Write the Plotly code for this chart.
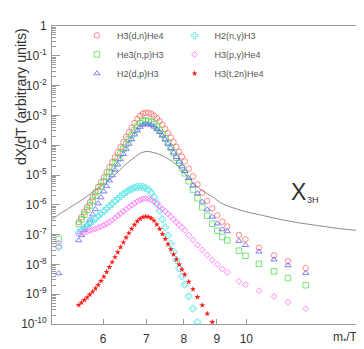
import plotly.graph_objects as go

# abscissa m*/T (first point is the isolated low-x sample)
x_vals = [5.12, 5.500, 5.555, 5.611, 5.667, 5.723, 5.781, 5.838, 5.896, 5.955, 6.015,
          6.075, 6.136, 6.197, 6.259, 6.322, 6.385, 6.449, 6.513, 6.578, 6.644,
          6.711, 6.778, 6.846, 6.914, 6.983, 7.053, 7.124, 7.195, 7.267, 7.340,
          7.413, 7.487, 7.562, 7.638, 7.714, 7.791, 7.869, 7.948, 8.027, 8.143,
          8.267, 8.401, 8.545, 8.699, 8.856, 9.015, 9.178, 9.343, 9.74, 9.97,
          10.46, 11.04, 11.60, 12.36]

h3dn_he4 = [3.89e-8,
            2.62e-7, 3.86e-7, 5.69e-7, 8.37e-7, 1.21e-6, 1.80e-6, 2.65e-6, 3.93e-6, 5.77e-6, 8.49e-6,
            1.25e-5, 1.85e-5, 2.69e-5, 3.95e-5, 5.86e-5, 8.62e-5, 1.27e-4, 1.87e-4, 2.72e-4, 3.87e-4,
            5.52e-4, 7.54e-4, 9.77e-4, 1.14e-3, 1.23e-3, 1.21e-3, 1.12e-3, 9.77e-4, 8.12e-4, 6.40e-4,
            4.83e-4, 3.53e-4, 2.53e-4, 1.81e-4, 1.27e-4, 8.75e-5, 6.08e-5, 4.16e-5,
            2.87e-5, 1.64e-5, 9.01e-6, 4.86e-6, 2.51e-6, 1.35e-6, 7.60e-7, 4.42e-7, 2.72e-7,
            1.88e-7, 9.77e-8, 6.90e-8, 3.61e-8, 2.00e-8, 1.28e-8, 7.43e-9]

he3np_h3 = [7.16e-8,
            2.26e-7, 3.26e-7, 4.66e-7, 6.70e-7, 9.49e-7, 1.39e-6, 2.00e-6, 2.89e-6, 4.16e-6, 5.98e-6,
            8.61e-6, 1.24e-5, 1.75e-5, 2.49e-5, 3.61e-5, 5.24e-5, 7.60e-5, 1.10e-4, 1.58e-4, 2.21e-4,
            3.14e-4, 4.26e-4, 5.48e-4, 6.35e-4, 6.79e-4, 6.59e-4, 5.94e-4, 5.08e-4, 4.16e-4, 3.24e-4,
            2.38e-4, 1.71e-4, 1.19e-4, 8.30e-5, 5.65e-5, 3.78e-5, 2.55e-5, 1.69e-5,
            1.14e-5, 6.17e-6, 3.24e-6, 1.66e-6, 8.24e-7, 4.26e-7, 2.32e-7, 1.35e-7, 8.30e-8,
            6.40e-8, 2.89e-8, 1.95e-8, 1.05e-8, 5.82e-9, 3.46e-9, 2.00e-9]

h2dp_h3 = [5.01e-9,
           6.40e-8, 9.49e-8, 1.42e-7, 2.12e-7, 3.12e-7, 4.72e-7, 7.05e-7, 1.11e-6, 1.76e-6, 2.79e-6,
           4.26e-6, 6.55e-6, 9.77e-6, 1.48e-5, 2.23e-5, 3.36e-5, 5.01e-5, 7.48e-5, 1.11e-4, 1.58e-4,
           2.28e-4, 3.14e-4, 4.10e-4, 4.83e-4, 5.24e-4, 5.16e-4, 4.75e-4, 4.16e-4, 3.46e-4, 2.75e-4,
           2.08e-4, 1.55e-4, 1.12e-4, 8.05e-5, 5.69e-5, 3.98e-5, 2.79e-5, 1.94e-5,
           1.35e-5, 7.83e-6, 4.39e-6, 2.40e-6, 1.27e-6, 6.90e-7, 3.98e-7, 2.35e-7, 1.50e-7,
           1.28e-7, 6.08e-8, 4.42e-8, 2.69e-8, 1.45e-8, 9.29e-9, 5.13e-9]

h2ng_h3 = [3.89e-8,
           1.20e-7, 1.42e-7, 1.68e-7, 2.01e-7, 2.38e-7, 2.87e-7, 3.46e-7, 4.16e-7, 5.05e-7, 6.12e-7,
           7.43e-7, 9.02e-7, 1.09e-6, 1.33e-6, 1.61e-6, 1.92e-6, 2.28e-6, 2.67e-6, 3.05e-6, 3.40e-6,
           3.75e-6, 3.98e-6, 4.04e-6, 3.95e-6, 3.67e-6, 3.21e-6, 2.53e-6, 1.81e-6, 1.12e-6, 6.40e-7,
           3.28e-7, 1.75e-7, 9.29e-8, 4.94e-8, 2.62e-8, 1.40e-8, 7.43e-9, 3.95e-9,
           2.10e-9, 8.61e-10, 3.28e-10, 1.16e-10, None, None, None, None, None,
           None, None, None, None, None, None, None]

h3pg_he4 = [5.24e-8,
            1.04e-7, 1.11e-7, 1.19e-7, 1.27e-7, 1.36e-7, 1.46e-7, 1.57e-7, 1.71e-7, 1.87e-7, 2.07e-7,
            2.32e-7, 2.65e-7, 3.07e-7, 3.61e-7, 4.29e-7, 5.05e-7, 5.98e-7, 7.11e-7, 8.30e-7, 9.70e-7,
            1.12e-6, 1.29e-6, 1.45e-6, 1.58e-6, 1.64e-6, 1.61e-6, 1.47e-6, 1.29e-6, 1.06e-6, 8.69e-7,
            7.26e-7, 6.04e-7, 4.94e-7, 4.04e-7, 3.26e-7, 2.62e-7, 2.12e-7, 1.72e-7,
            1.40e-7, 9.64e-8, 6.65e-8, 4.52e-8, 3.05e-8, 2.06e-8, 1.42e-8, 1.00e-8, 7.00e-9,
            5.40e-9, 2.69e-9, 2.10e-9, 1.32e-9, 8.43e-10, 5.40e-10, 3.28e-10]

h3t2n_he4 = [None,
             4.32e-10, 5.20e-10, 6.35e-10, 7.83e-10, 9.70e-10, 1.22e-9, 1.56e-9, 2.06e-9, 2.77e-9, 3.86e-9,
             5.56e-9, 8.13e-9, 1.19e-8, 1.75e-8, 2.57e-8, 3.78e-8, 5.48e-8, 7.94e-8, 1.12e-7, 1.56e-7,
             2.13e-7, 2.79e-7, 3.40e-7, 3.86e-7, 4.04e-7, 3.93e-7, 3.53e-7, 2.94e-7, 2.18e-7, 1.54e-7,
             1.05e-7, 7.11e-8, 4.75e-8, 3.21e-8, 2.16e-8, 1.46e-8, 9.86e-9, 6.70e-9,
             4.55e-9, 2.62e-9, 1.47e-9, 8.00e-10, 4.26e-10, 2.21e-10, 1.16e-10, None, None,
             None, None, None, None, None, None, None]

# X_3H abundance curve
chi_x = [5.0, 5.18, 5.43, 5.67, 5.87, 6.09, 6.31, 6.54, 6.73, 6.87, 7.02, 7.17, 7.33, 7.49,
         7.68, 7.87, 8.10, 8.30, 8.48, 8.70, 8.92, 9.11, 9.34, 9.68, 10.03, 10.59, 11.17,
         12.00, 12.89, 13.84, 15.0]
chi_y = [3.28e-7, 5.52e-7, 1.04e-6, 1.95e-6, 3.40e-6, 5.94e-6, 1.20e-5, 2.53e-5, 4.10e-5,
         5.52e-5, 6.17e-5, 5.73e-5, 4.94e-5, 3.95e-5, 2.83e-5, 1.81e-5, 8.95e-6, 5.13e-6,
         3.40e-6, 2.35e-6, 1.68e-6, 1.20e-6, 9.29e-7, 7.16e-7, 5.73e-7, 4.42e-7, 3.40e-7,
         2.53e-7, 2.02e-7, 1.62e-7, 1.35e-7]

y_tickvals = [1e-10, 1e-9, 1e-8, 1e-7, 1e-6, 1e-5, 1e-4, 1e-3, 1e-2, 1e-1, 1]
y_ticktext = ["10<sup>-10</sup>", "10<sup>-9</sup>", "10<sup>-8</sup>", "10<sup>-7</sup>",
              "10<sup>-6</sup>", "10<sup>-5</sup>", "10<sup>-4</sup>", "10<sup>-3</sup>",
              "10<sup>-2</sup>", "10<sup>-1</sup>", "1"]
x_tickvals = [6, 7, 8, 9, 10]
x_ticktext = ["6", "7", "8", "9", "10"]

FONT = "Liberation Sans, Arial, Helvetica, sans-serif"
AXC = "#9a9a9a"

fig = go.Figure()

fig.add_trace(go.Scatter(x=chi_x, y=chi_y, mode="lines", line=dict(color="#8c8c8c", width=1, shape="spline"),
                         showlegend=False, hoverinfo="skip"))

series = [
    ("H3(d,n)He4", h3dn_he4, "circle-open", "#ff6a6a", 5.5, 0.8, "legend"),
    ("He3(n,p)H3", he3np_h3, "square-open", "#55dd55", 5.5, 0.8, "legend"),
    ("H2(d,p)H3", h2dp_h3, "triangle-up-open", "#6060ff", 5.5, 0.8, "legend"),
    ("H2(n,γ)H3", h2ng_h3, "cross-open", "#55e6e6", 5.5, 0.8, "legend2"),
    ("H3(p,γ)He4", h3pg_he4, "diamond-open", "#ff66ff", 4.5, 0.8, "legend2"),
    ("H3(t,2n)He4", h3t2n_he4, "star", "#ff1a1a", 4.5, 0, "legend2"),
]
for name, ys, sym, col, sz, lw, lg in series:
    fig.add_trace(go.Scatter(x=x_vals, y=ys, mode="markers", name=name, legend=lg,
                             marker=dict(symbol=sym, color=col, size=sz, line=dict(color=col, width=lw))))

leg_common = dict(orientation="v", yanchor="top", xanchor="left", y=1.017,
                  font=dict(size=9, color="#555555"), bgcolor="rgba(0,0,0,0)",
                  itemwidth=30, tracegroupgap=0)

fig.update_layout(
    width=364, height=349,
    margin=dict(l=44, r=11, t=12, b=27),
    paper_bgcolor="white", plot_bgcolor="white",
    font=dict(family=FONT, color="#333333", size=12),
    showlegend=True,
    legend=dict(x=0.081, **leg_common),
    legend2=dict(x=0.398, **leg_common),
    xaxis=dict(type="log", range=[0.69897, 1.176091], tickvals=x_tickvals, ticktext=x_ticktext,
               ticks="inside", ticklen=5, tickcolor=AXC, showline=True, linecolor=AXC, linewidth=1,
               mirror=True, showgrid=False, zeroline=False, tickfont=dict(size=12, color="#333333"),
               ticklabelstandoff=4),
    yaxis=dict(type="log", range=[-10, 0], tickvals=y_tickvals, ticktext=y_ticktext,
               ticks="inside", ticklen=8, tickcolor=AXC, showline=True, linecolor=AXC, linewidth=1,
               mirror=True, showgrid=False, zeroline=False, tickfont=dict(size=12, color="#333333"),
               ticklabelstandoff=2,
               minor=dict(ticks="inside", ticklen=4, dtick="D1", tickcolor=AXC, showgrid=False)),
)

fig.add_annotation(text="dX/dT (arbitrary units)", textangle=-90, xref="paper", yref="paper",
                   x=-0.102, y=1.0, xanchor="center", yanchor="top", showarrow=False,
                   font=dict(size=14.2, color="#333333"))
fig.add_annotation(text="m<sub>*</sub>/T", xref="paper", yref="paper", x=1.0, y=-0.048,
                   xanchor="right", yanchor="middle", showarrow=False, font=dict(size=12, color="#333333"))
fig.add_annotation(text="X", xref="paper", yref="paper", x=0.800, y=0.442,
                   xanchor="center", yanchor="middle", showarrow=False, font=dict(size=23, color="#333333"))
fig.add_annotation(text="3H", xref="paper", yref="paper", x=0.846, y=0.417,
                   xanchor="center", yanchor="middle", showarrow=False, font=dict(size=9, color="#333333"))

fig.write_html("out.html")
